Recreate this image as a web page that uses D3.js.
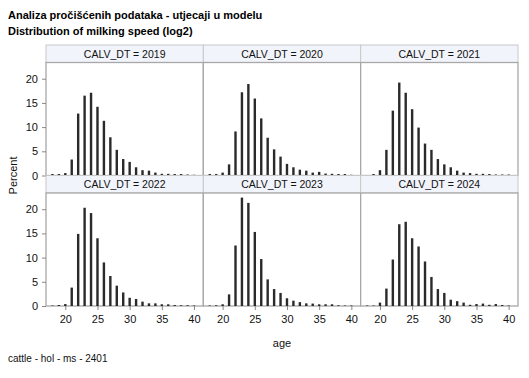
<!DOCTYPE html>
<html><head><meta charset="utf-8">
<script src="https://cdn.jsdelivr.net/npm/d3@7"></script>
<style>body{margin:0;background:#fff}svg{display:block;font-family:"Liberation Sans",Arial,sans-serif}</style>
</head><body><svg id="c" width="529" height="378"></svg>
<script>
const titles = ["Analiza pročišćenih podataka - utjecaji u modelu", "Distribution of milking speed (log2)"];
const footnote = "cattle - hol - ms - 2401";
const years = [2019, 2020, 2021, 2022, 2023, 2024];
const ages = [18,19,20,21,22,23,24,25,26,27,28,29,30,31,32,33,34,35,36,37,38,39,40];
const pct2019 = [0.3,0.3,0.5,3.3,12.8,16.5,17.1,14.2,11.3,7.9,5.3,3.4,2.8,1.7,1.1,1.0,0.6,0.35,0.35,0.3,0.3,0.2,0.15];
const pct2020 = [0.3,0.3,0.6,2.3,9.1,17.2,18.9,15.9,11.8,7.8,5.4,3.9,2.4,1.7,1.2,1.0,0.6,0.75,0.4,0.35,0.3,0.3,0.15];
const pct2021 = [0.1,0.3,1.1,5.3,13.4,19.2,17.1,13.7,9.9,6.6,5.3,3.4,2.3,1.7,1.0,0.6,0.5,0.35,0.35,0.3,0.2,0.2,0.2];
const pct2022 = [0.1,0.2,0.4,3.8,14.9,20.3,19.2,14.0,9.0,6.2,4.2,2.8,1.7,1.45,0.9,0.55,0.55,0.35,0.35,0.2,0.15,0.15,0.1];
const pct2023 = [0.1,0.15,0.35,2.4,12.5,22.4,21.3,15.3,9.7,5.5,3.5,2.7,1.6,1.1,0.8,0.55,0.5,0.35,0.35,0.35,0.15,0.1,0.1];
const pct2024 = [0.1,0.1,0.7,3.6,9.6,16.9,17.4,14.0,12.3,9.2,6.0,3.5,2.7,1.3,1.0,0.7,0.25,0.4,0.5,0.25,0.4,0.2,0.1];
const series = [pct2019, pct2020, pct2021, pct2022, pct2023, pct2024];
const xTicks = [20,25,30,35,40];
const yTicks = [0,5,10,15,20];

const svg = d3.select("#c");
const padLeft = 46, padTop = 45, colW = 157.33, hdrH = 17.5, plotH = 113;
const rowH = hdrH + plotH;
const x = d3.scaleLinear().domain([17, 41.45]).range([0, colW]);
const y = d3.scaleLinear().domain([0, 23.35]).range([plotH, 0]);

svg.append("text").attr("x", 8).attr("y", 19).attr("font-size", 11).attr("font-weight", "bold").text(titles[0]);
svg.append("text").attr("x", 8).attr("y", 35).attr("font-size", 11).attr("font-weight", "bold").text(titles[1]);

years.forEach((yr, i) => {
  const c = i % 3, r = Math.floor(i / 3);
  const gx = padLeft + c * colW, gy = padTop + r * rowH;
  const g = svg.append("g").attr("transform", `translate(${gx},${gy})`);
  g.append("rect").attr("x", 0).attr("y", 0).attr("width", colW).attr("height", hdrH)
    .attr("fill", "#f1f4fa").attr("stroke", "#c8c8c8").attr("stroke-width", 1);
  g.append("text").attr("x", colW / 2).attr("y", hdrH / 2 + 3.8).attr("text-anchor", "middle")
    .attr("font-size", 10.5).attr("fill", "#111").text(`CALV_DT = ${yr}`);
  const p = g.append("g").attr("transform", `translate(0,${hdrH})`);
  p.append("rect").attr("width", colW).attr("height", plotH).attr("fill", "#fff")
    .attr("stroke", "#a8a8a8").attr("stroke-width", 1.3);
  p.selectAll("rect.bar").data(series[i].map((v, k) => ({a: ages[k], v})))
    .join("rect").attr("class", "bar")
    .attr("x", d => x(d.a) - 1.2).attr("width", 2.4)
    .attr("y", d => y(d.v)).attr("height", d => plotH - y(d.v))
    .attr("fill", "#2a2a2a");
  if (c === 0) {
    const ax = p.append("g").call(d3.axisLeft(y).tickValues(yTicks).tickSize(4).tickPadding(4));
    ax.select(".domain").remove();
    ax.selectAll("line").attr("stroke", "#888");
    ax.selectAll("text").attr("font-size", 11).attr("fill", "#111").attr("font-family", "Liberation Sans,Arial,sans-serif");
  }
  if (r === 1) {
    const ax = p.append("g").attr("transform", `translate(0,${plotH})`)
      .call(d3.axisBottom(x).tickValues(xTicks).tickSize(4).tickPadding(5));
    ax.select(".domain").remove();
    ax.selectAll("line").attr("stroke", "#888");
    ax.selectAll("text").attr("font-size", 11).attr("fill", "#111").attr("font-family", "Liberation Sans,Arial,sans-serif");
  }
});

svg.append("text").attr("transform", `translate(17,${padTop + rowH})rotate(-90)`)
  .attr("text-anchor", "middle").attr("font-size", 11).attr("fill", "#111").text("Percent");
svg.append("text").attr("x", padLeft + colW * 1.5).attr("y", 347).attr("text-anchor", "middle")
  .attr("font-size", 11).attr("fill", "#111").text("age");
svg.append("text").attr("x", 8).attr("y", 362).attr("font-size", 10).attr("fill", "#111").text(footnote);
</script></body></html>
